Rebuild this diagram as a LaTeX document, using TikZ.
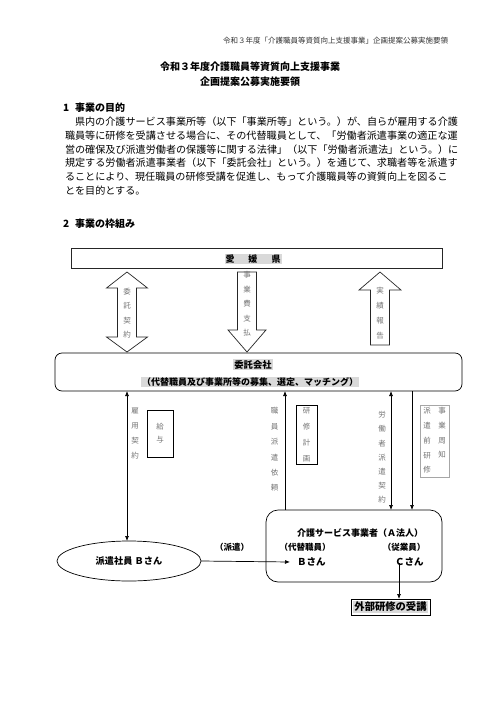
\documentclass[tikz,border=0pt]{standalone}
\usepackage{fontspec}
\setmainfont{Noto Sans CJK JP}
\usetikzlibrary{arrows.meta,shapes.geometric}
\newcommand{\fs}[1]{\fontsize{#1}{#1}\selectfont}
\begin{document}
\begin{tikzpicture}[x=1pt,y=-1pt,line width=0.7pt,
  every node/.style={inner sep=0pt,outer sep=0pt},
  tipend/.style={-{Latex[length=5pt,width=4pt]}},
  tipstart/.style={{Latex[length=5pt,width=4pt]}-},
  tipboth/.style={{Latex[length=5pt,width=4pt]}-{Latex[length=5pt,width=4pt]}},
  blk/.style={draw=black!85,line width=0.7pt,fill=white},
  hl/.style={fill=black!15,inner sep=1pt},
  body/.style={anchor=west,font=\fontsize{10.1}{10.1}\selectfont},
  vlab/.style={align=center,text=black!55},
  ttl/.style={font=\bfseries\fs{10}}]
\path[use as bounding box] (0,0) rectangle (500,707);

% header
\node[anchor=east,font=\fs{7.5},text=black!80] (hdr) at (448,41) {令和３年度「介護職員等資質向上支援事業」企画提案公募実施要領};

% title
\node[ttl] (t1) at (250,67) {令和３年度介護職員等資質向上支援事業};
\node[ttl] (t2) at (250,82) {企画提案公募実施要領};

% section 1
\node[anchor=west,ttl] (h1n) at (63,108) {1};
\node[anchor=west,ttl] (h1) at (75,108) {事業の目的};
\node[body] (p1) at (75,122) {県内の介護サービス事業所等（以下「事業所等」という。）が、自らが雇用する介護};
\node[body] (p2) at (65,136) {職員等に研修を受講させる場合に、その代替職員として、「労働者派遣事業の適正な運};
\node[body] (p3) at (65,149.5) {営の確保及び派遣労働者の保護等に関する法律」（以下「労働者派遣法」という。）に};
\node[body] (p4) at (65,163) {規定する労働者派遣事業者（以下「委託会社」という。）を通じて、求職者等を派遣す};
\node[body] (p5) at (65,177) {ることにより、現任職員の研修受講を促進し、もって介護職員等の資質向上を図るこ};
\node[body] (p6) at (65,191) {とを目的とする。};

% section 2
\node[anchor=west,ttl] (h2n) at (63,224) {2};
\node[anchor=west,ttl] (h2) at (75,224) {事業の枠組み};

% Ehime
\node[blk,minimum width=371,minimum height=20] (ehime) at (256.5,258) {};
\node[hl,font=\bfseries\fs{9}] (ehimet) at (253,259) {愛\hspace{14pt}媛\hspace{14pt}県};

% block arrows
\draw[blk] (127,272) -- (147.5,288) -- (136.5,288) -- (136.5,337) -- (147.5,337) -- (127,352)
  -- (106.5,337) -- (117.5,337) -- (117.5,288) -- (106.5,288) -- cycle;
\node[vlab,font=\fontsize{7.5}{14.5}\selectfont] (a1t) at (127,313) {委\\託\\契\\約};

\draw[blk] (237.5,272) -- (256.5,272) -- (256.5,330) -- (266,330) -- (247,352) -- (228,330) -- (237.5,330) -- cycle;
\node[vlab,font=\fontsize{7.5}{14.5}\selectfont] (a2t) at (247,304) {事\\業\\費\\支\\払};

\draw[blk] (380,272) -- (401,290) -- (389.5,290) -- (389.5,345) -- (370.5,345) -- (370.5,290) -- (359,290) -- cycle;
\node[vlab,font=\fontsize{7.5}{15}\selectfont] (a3t) at (380,313) {実\\績\\報\\告};

% commission company
\node[draw,rounded corners=7pt,minimum width=407,minimum height=38] (kaisha) at (258.5,372) {};
\node[hl,font=\bfseries\fs{9.3}] (kt1) at (253,364.5) {委託会社};
\node[hl,font=\bfseries\fs{9}] (kt2) at (250,382) {（代替職員及び事業所等の募集、選定、マッチング）};

% ellipse
\node[draw,ellipse,minimum width=144,minimum height=40,font=\bfseries\fs{9.2}] (haken) at (129,561) {派遣社員 Ｂさん};

% A corporation box
\node[draw,rounded corners=12pt,minimum width=176,minimum height=72] (abox) at (354,546) {};
\node[font=\bfseries\fs{9}] (aname) at (360,533) {介護サービス事業者（Ａ法人）};
\node[font=\bfseries\fs{8.5}] (dai) at (305,547) {（代替職員）};
\node[font=\bfseries\fs{8.5}] (ju) at (404,547) {（従業員）};
\node[font=\bfseries\fs{8.5}] (hk) at (232,547) {（派遣）};
\node[anchor=west,font=\bfseries\fs{9.5}] (bsan) at (297,562) {Ｂさん};
\node[anchor=west,font=\bfseries\fs{9.5}] (csan) at (395,562) {Ｃさん};

% external training
\node[draw,line width=0.9pt,minimum width=79,minimum height=16,fill=white] (gaibu) at (390.5,607) {};
\node[hl,font=\bfseries\fs{10.3}] (gaibut) at (390.5,607) {外部研修の受講};

% vertical connectors
\coordinate (x1) at (127,0);
\coordinate (x2) at (285,0);
\coordinate (x3) at (391,0);
\coordinate (x4) at (412,0);
\coordinate (x5) at (399,0);
\draw[tipboth] (kaisha.south -| x1) -- (haken.north -| x1);
\draw[tipstart] (kaisha.south -| x2) -- (abox.north -| x2);
\draw[tipboth] (kaisha.south -| x3) -- (abox.north -| x3);
\draw[tipend] (kaisha.south -| x4) -- (abox.north -| x4);
\draw[tipend] (haken.east) -- ([xshift=-7pt]bsan.west);
\draw[tipend] ([yshift=3pt]csan.south -| x5) -- (gaibu.north -| x5);

% labels
\node[vlab,font=\fontsize{7.5}{15}\selectfont] (l1) at (135,433.5) {雇\\用\\契\\約};
\node[draw,minimum width=26,minimum height=47,vlab,font=\fontsize{7.5}{13}\selectfont] (kyuyo) at (160,433.5) {給\\与};
\node[vlab,font=\fontsize{7.5}{15.4}\selectfont] (l2) at (274.5,449.5) {職\\員\\派\\遣\\依\\頼};
\node[draw,minimum width=21,minimum height=59,vlab,font=\fontsize{7.5}{16}\selectfont] (kenshu) at (306.5,434.5) {研\\修\\計\\画};
\node[vlab,font=\fontsize{7.5}{14.2}\selectfont] (l3) at (382,457.5) {労\\働\\者\\派\\遣\\契\\約};
\node[draw=black!35,line width=0.6pt,minimum width=29,minimum height=72] (shuchi) at (434.5,441) {};
\node[vlab,font=\fontsize{7.5}{14.7}\selectfont] (s1) at (442,433) {事\\業\\周\\知};
\node[vlab,font=\fontsize{7.5}{14.7}\selectfont] (s2) at (427,440.5) {派\\遣\\前\\研\\修};
\end{tikzpicture}
\end{document}
